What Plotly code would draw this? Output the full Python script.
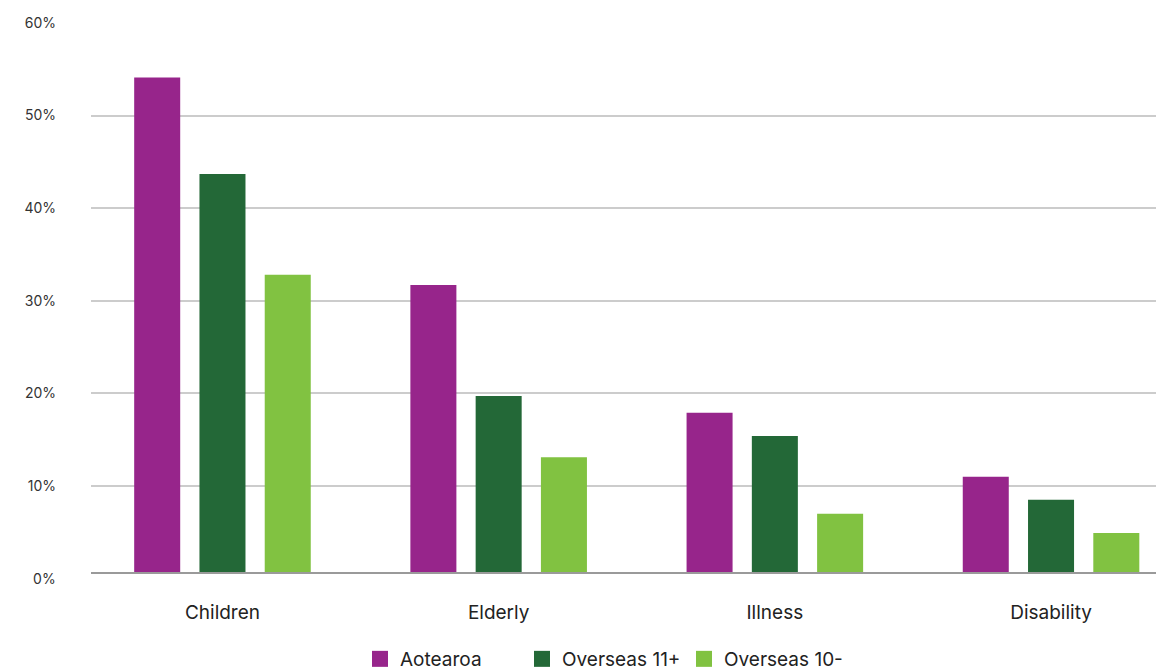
import plotly.graph_objects as go

categories = ["Children", "Elderly", "Illness", "Disability"]
series_names = ["Aotearoa", "Overseas 11+", "Overseas 10-"]
aotearoa = [54.1, 31.7, 17.9, 11.0]
overseas_11 = [43.7, 19.7, 15.4, 8.5]
overseas_10 = [32.8, 13.1, 7.0, 4.9]
y_ticks = [0, 10, 20, 30, 40, 50, 60]
y_ticktext = ["\u20070%", "10%", "20%", "30%", "40%", "50%", "60%"]
# the baseline line of the source chart sits slightly above the 0% grid position
y_min, y_max = 0.7, 60

colors = ["#97258B", "#236837", "#81C241"]
values = [aotearoa, overseas_11, overseas_10]

# page body has an 8px margin; size the figure to fill the remaining window
W, H = 1156, 663
FONT = "Inter"

fig = go.Figure()
for name, vals, col in zip(series_names, values, colors):
    fig.add_trace(go.Bar(x=categories, y=vals, name=name, marker=dict(color=col, line=dict(width=0)),
                         showlegend=False, legendgroup=name))
for name, col in zip(series_names, colors):
    fig.add_trace(go.Scatter(x=[None], y=[None], mode="markers", name=name, legendgroup=name,
                             marker=dict(symbol="square", size=16, color=col, line=dict(width=0))))

fig.update_layout(
    width=W, height=H,
    margin=dict(l=83, r=0, t=15, b=99),
    plot_bgcolor="white", paper_bgcolor="white",
    barmode="group", bargap=0.291, bargroupgap=0.295,
    font=dict(family=FONT, color="#222222"),
    legend=dict(orientation="h", xref="container", yref="container",
                x=352 / W, y=(H - 651) / H, xanchor="left", yanchor="middle",
                font=dict(size=19, color="#222222"), entrywidth=117,
                bgcolor="rgba(0,0,0,0)"),
)
fig.update_xaxes(
    type="category", range=[-0.476, 3.409],
    showgrid=False, showline=True, linecolor="#9a9a9a", linewidth=2,
    ticks="", ticklabelstandoff=22, tickfont=dict(size=19, color="#222222"),
)
fig.update_yaxes(
    range=[y_min, y_max], tickvals=y_ticks, ticktext=y_ticktext,
    showgrid=True, gridcolor="#cccccc", gridwidth=1.5, zeroline=False,
    ticks="", ticklabelstandoff=34, tickfont=dict(size=14, color="#333333"),
)
# 0% label (its grid position lies just below the drawn baseline)
fig.add_annotation(
    text=y_ticktext[0], xref="paper", x=0, xanchor="right", xshift=-34,
    yref="y domain", y=(y_ticks[0] - y_min) / (y_max - y_min), yanchor="middle",
    showarrow=False, font=dict(size=14, color="#333333"), borderpad=0,
)

fig.write_html("out.html")
